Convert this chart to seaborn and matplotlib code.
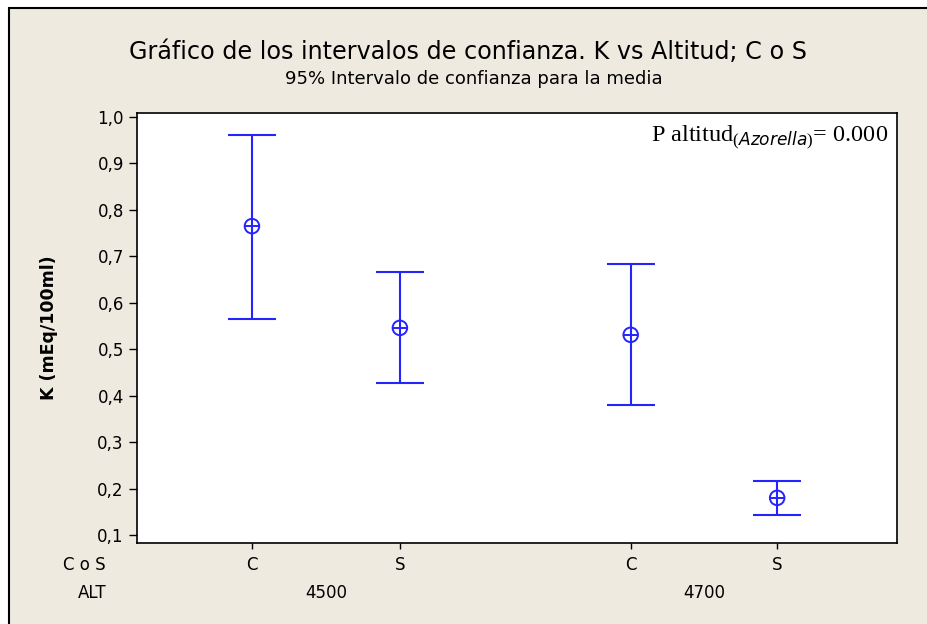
import matplotlib
matplotlib.use("Agg")
import matplotlib.pyplot as plt
from matplotlib.patches import Rectangle
from matplotlib.transforms import blended_transform_factory
import seaborn as sns
import pandas as pd

# ---- data ----
cos = ["C", "S", "C", "S"]
alt = ["4500", "4500", "4700", "4700"]
means = [0.765, 0.546, 0.531, 0.180]
lower = [0.565, 0.427, 0.380, 0.143]
upper = [0.961, 0.666, 0.684, 0.216]
yticks = [0.1, 0.2, 0.3, 0.4, 0.5, 0.6, 0.7, 0.8, 0.9, 1.0]
ytick_labels = ["0,1", "0,2", "0,3", "0,4", "0,5", "0,6", "0,7", "0,8", "0,9", "1,0"]

# layout positions (Minitab places a wider gap between ALT groups)
xpos = [0.0, 1.0, 2.56, 3.55]

df = pd.DataFrame({"x": xpos, "mean": means, "lo": lower, "hi": upper,
                   "cos": cos, "alt": alt})

sns.set_theme(style="white")
plt.rcParams["font.family"] = ["DejaVu Sans"]
plt.rcParams["text.color"] = "black"
plt.rcParams["mathtext.fontset"] = "custom"
plt.rcParams["mathtext.rm"] = "Liberation Serif"
plt.rcParams["mathtext.it"] = "DejaVu Sans:italic"

W, H = 927, 624
fig = plt.figure(figsize=(W / 100, H / 100), dpi=100, facecolor="white")
bg = "#EEEAE0"
fig.patches.append(Rectangle((9 / W, -0.05), 1.0, (H - 7.5) / H + 0.05,
                             transform=fig.transFigure, facecolor=bg,
                             edgecolor="black", linewidth=1.5, zorder=-10))

ax = fig.add_axes([137 / W, 1 - 543 / H, (897 - 137) / W, (543 - 113) / H])
ax.set_facecolor("white")
blue = "#2424FF"

# error bars
ax.errorbar(df["x"], df["mean"],
            yerr=[df["mean"] - df["lo"], df["hi"] - df["mean"]],
            fmt="none", ecolor=blue, elinewidth=1.5, capsize=17, capthick=1.5)
# means: circle with cross
sns.scatterplot(data=df, x="x", y="mean", ax=ax, marker="o", s=110,
                facecolor="none", edgecolor=blue, linewidth=1.4, zorder=5)
sns.scatterplot(data=df, x="x", y="mean", ax=ax, marker="+", s=110,
                color=blue, linewidth=1.4, zorder=5)

ax.set_xlim(-0.777, 4.36)
ax.set_ylim(0.0828, 1.0086)
ax.set_yticks(yticks)
ax.set_yticklabels(ytick_labels, fontsize=12)
ax.set_xticks(xpos)
ax.set_xticklabels(cos, fontsize=12)
ax.tick_params(axis="y", direction="out", length=5.5, width=1, left=True, pad=4,
               colors="black")
ax.tick_params(axis="x", direction="out", length=4.5, width=1, bottom=True, pad=5,
               colors="black")
for s in ax.spines.values():
    s.set_color("black")
    s.set_linewidth(1.2)
ax.set_xlabel("")
ax.set_ylabel("K (mEq/100ml)", fontsize=12.5, fontweight="bold", labelpad=28,
              color="black")

# row labels for x
fig.text(63 / W, 1 - 565 / H, "C o S", fontsize=12, ha="left", va="center")
fig.text(78 / W, 1 - 593 / H, "ALT", fontsize=12, ha="left", va="center")
tr = blended_transform_factory(ax.transData, fig.transFigure)
for g in ["4500", "4700"]:
    xs = df.loc[df["alt"] == g, "x"]
    ax.text(xs.mean(), 1 - 593 / H, g, transform=tr, fontsize=12,
            ha="center", va="center")

fig.text(468 / W, 1 - 52 / H,
         "Gráfico de los intervalos de confianza. K vs Altitud; C o S",
         fontsize=17.2, ha="center", va="center")
fig.text(474 / W, 1 - 79 / H, "95% Intervalo de confianza para la media",
         fontsize=13, ha="center", va="center")

ax.text(0.988, 0.944, r"P altitud$_{\mathit{(Azorella)}}$= 0.000",
        transform=ax.transAxes, ha="right", va="center",
        fontsize=17.5, family="Liberation Serif")

fig.savefig("out.png", dpi=100, facecolor="white")
